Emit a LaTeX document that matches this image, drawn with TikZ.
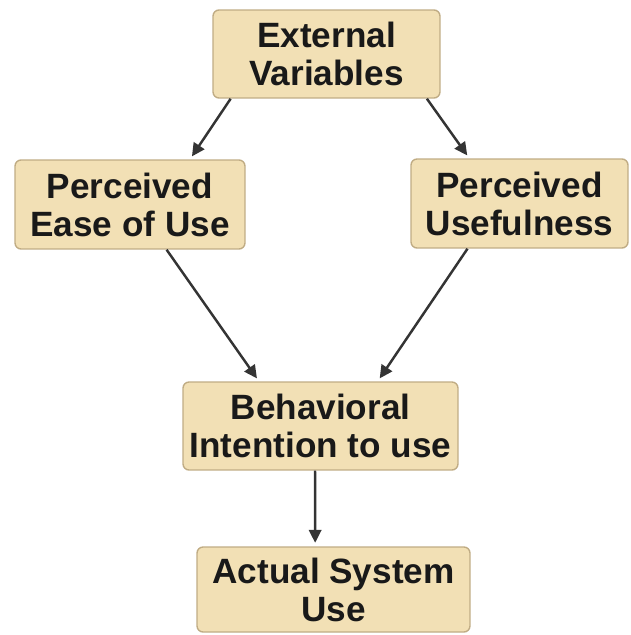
\documentclass[tikz,border=0pt]{standalone}
\usepackage{fontspec}
\setmainfont{Liberation Sans}
\usepackage{tikz}
\usetikzlibrary{arrows.meta}
\definecolor{boxfill}{RGB}{242,224,181}
\definecolor{boxline}{RGB}{192,172,132}
\definecolor{arrowgray}{RGB}{52,52,52}

\begin{document}
\begin{tikzpicture}[x=0.02cm, y=-0.02cm,
  tambox/.style={draw=boxline, fill=boxfill, line width=0.8pt, rounded corners=0.12cm,
    inner sep=0pt, align=center, text=black!90,
    font=\fontsize{20}{21.6}\selectfont\bfseries},
  flow/.style={-{Triangle[length=0.26cm,width=0.25cm]}, color=arrowgray, line width=1.4pt,
    shorten >=2pt}]
\useasboundingbox (0,0) rectangle (630,635);
%%%%% Boxes %%%%%
\node[tambox, minimum width=4.54cm, minimum height=1.76cm] (ext) at (326.5,54) {External\\Variables};
\node[tambox, minimum width=4.60cm, minimum height=1.78cm] (peu) at (130,204.5) {Perceived\\Ease of Use};
\node[tambox, minimum width=4.34cm, minimum height=1.78cm] (pu) at (519.5,203.5) {Perceived\\Usefulness};
\node[tambox, minimum width=5.50cm, minimum height=1.76cm] (bi) at (320.5,426) {Behavioral\\Intention to use};
\node[tambox, minimum width=5.46cm, minimum height=1.70cm] (asu) at (333.5,589.5) {Actual System\\Use};
%%%%% Arrows %%%%%
\draw[flow] (ext.-155.7) -- (peu.37.5);
\draw[flow] (ext.-24.6) -- (pu.138.6);
\draw[flow] (peu.-51.8) -- (bi.144.9);
\draw[flow] (pu.-139.2) -- (bi.38.9);
\draw[flow] (bi.-97.1) -- (asu.113.5);
\end{tikzpicture}
\end{document}
